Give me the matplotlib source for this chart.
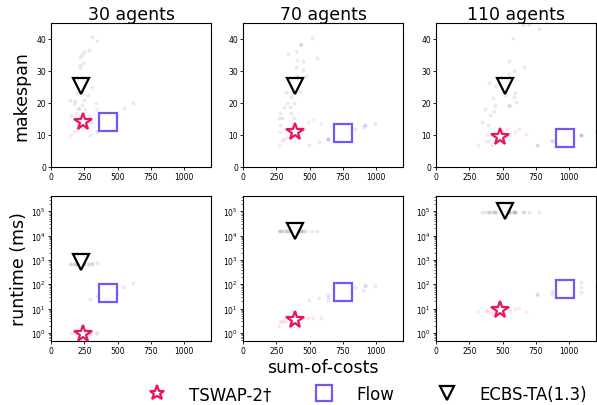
import matplotlib
matplotlib.use("Agg")
import matplotlib.pyplot as plt
import numpy as np

titles = ["30 agents", "70 agents", "110 agents"]
methods = ["TSWAP-2†", "Flow", "ECBS-TA(1.3)"]

# ---- 30 agents ----
ecbs30_soc = [309, 347, 283, 245, 233, 220, 220, 215, 309, 275, 144, 182, 175, 202, 207, 149, 190, 233, 245, 195, 240]
ecbs30_mk = [40.5, 39.5, 36.5, 36, 35, 34.5, 32, 31, 25, 22.5, 21, 20.5, 19.7, 18.5, 18, 16.3, 16.8, 19.5, 21, 23, 32.5]
ecbs30_rt = [700, 720, 690, 710, 700, 680, 720, 700, 730, 700, 680, 700, 690, 710, 700, 690, 700, 720, 700, 690, 710]
tswap30_soc = [152, 334, 347, 258, 283, 207, 195, 276, 170, 230, 300, 240, 215]
tswap30_mk = [10, 20, 18, 18, 16, 13, 11.6, 13, 11, 15, 14, 12, 16]
tswap30_rt = [1.0, 1.0, 1.0, 1.0, 1.0, 1.0, 1.0, 1.0, 1.0, 1.0, 1.0, 1.0, 1.0]
flow30_soc = [296, 347, 448, 549, 612, 498, 380]
flow30_mk = [10, 11, 15, 18.4, 20, 15.8, 12]
flow30_rt = [26, 33, 55, 75, 112, 44, 36]

# ---- 70 agents ----
ecbs70_soc = [434, 515, 553, 339, 398, 403, 398, 449, 449, 474, 408, 319, 357, 364, 428, 332, 383, 306, 281, 268, 293, 275, 352, 383, 357, 430]
ecbs70_mk = [38.4, 40.3, 34.2, 35.3, 36.3, 33.5, 31.1, 33.2, 30.4, 28.3, 28.3, 23.4, 22, 23.5, 23.4, 19.9, 19.9, 18.8, 16.8, 15.2, 15.2, 13.1, 18.8, 15.2, 16.8, 38]
ecbs70_rt = [16000] * 26
tswap70_soc = [268, 306, 357, 434, 485, 523, 587, 408, 281, 459, 330, 290, 380]
tswap70_mk = [7, 8.9, 10, 12.6, 14, 14.9, 13.9, 11, 11, 11.8, 9.5, 8.5, 12]
tswap70_rt = [2.0, 3.0, 3.2, 4.5, 4.0, 4.2, 4.2, 3.5, 3.0, 4.2, 3.0, 2.8, 3.8]
flow70_soc = [497, 569, 638, 638, 638, 842, 913, 913, 987, 900]
flow70_mk = [7, 7.9, 8.9, 8.9, 8.9, 12, 13, 13, 13.9, 12.5]
flow70_rt = [22, 28, 36, 30, 22, 76, 97, 86, 88, 60]

# ---- 110 agents ----
ecbs110_soc = [650, 700, 775, 575, 550, 657, 582, 550, 507, 395, 452, 595, 520, 427, 582, 440, 545, 370, 402, 432, 345, 387, 600, 545]
ecbs110_mk = [44.3, 44.3, 43.2, 40.3, 33.2, 31.1, 30, 29, 27.7, 26.2, 25.4, 23, 22.5, 21.5, 22, 19.3, 19.3, 18.2, 16.3, 17.6, 14, 13.2, 20.3, 19]
ecbs110_rt = [93000] * 24
tswap110_soc = [312, 377, 420, 382, 532, 620, 677, 557, 457, 500, 400, 440, 590]
tswap110_mk = [7, 8, 7, 10, 12, 12, 10.2, 10.2, 7.9, 11, 8, 10, 11]
tswap110_rt = [7, 8, 6.5, 9, 10, 11, 7, 9, 8, 9.5, 7.5, 8, 10]
flow110_soc = [757, 757, 870, 870, 1090, 1090, 1090, 1200]
flow110_mk = [7, 7, 8, 8, 10, 10, 10, 11]
flow110_rt = [41, 35, 52, 41, 124, 75, 49, 75]

# mean markers (soc, makespan, runtime)
tswap_mean_soc = [238, 388, 482]
tswap_mean_mk = [14.2, 10.8, 9.5]
tswap_mean_rt = [0.95, 3.5, 8.9]
flow_mean_soc = [428, 752, 965]
flow_mean_mk = [14, 10.7, 9]
flow_mean_rt = [44, 49, 65]
ecbs_mean_soc = [228, 388, 515]
ecbs_mean_mk = [25.3, 25.4, 25.4]
ecbs_mean_rt = [830, 16000, 100000]

data = [
    dict(tswap=(tswap30_soc, tswap30_mk, tswap30_rt), flow=(flow30_soc, flow30_mk, flow30_rt), ecbs=(ecbs30_soc, ecbs30_mk, ecbs30_rt)),
    dict(tswap=(tswap70_soc, tswap70_mk, tswap70_rt), flow=(flow70_soc, flow70_mk, flow70_rt), ecbs=(ecbs70_soc, ecbs70_mk, ecbs70_rt)),
    dict(tswap=(tswap110_soc, tswap110_mk, tswap110_rt), flow=(flow110_soc, flow110_mk, flow110_rt), ecbs=(ecbs110_soc, ecbs110_mk, ecbs110_rt)),
]
means = dict(
    tswap=(tswap_mean_soc, tswap_mean_mk, tswap_mean_rt),
    flow=(flow_mean_soc, flow_mean_mk, flow_mean_rt),
    ecbs=(ecbs_mean_soc, ecbs_mean_mk, ecbs_mean_rt),
)

col_pt = dict(tswap="#f0407a", flow="#5a3cf0", ecbs="#555555")
col_mk = dict(tswap="#e8175d", flow="#7a55f5", ecbs="black")
mshape = dict(tswap="*", flow="s", ecbs="v")
msize = dict(tswap=13, flow=13, ecbs=12)

fig = plt.figure(figsize=(5.97, 4.06), dpi=100)
W, H = 597, 406
lefts = [51, 243, 436]
pw = 160
rows = [(24, 168), (197, 342)]

axes = []
for r, (top, bot) in enumerate(rows):
    rowax = []
    for c, lx in enumerate(lefts):
        ax = fig.add_axes([lx / W, 1 - bot / H, pw / W, (bot - top) / H])
        rowax.append(ax)
    axes.append(rowax)

handles = {}
for c in range(3):
    for r in range(2):
        ax = axes[r][c]
        for key in ["ecbs", "tswap", "flow"]:
            soc, mk, rt = data[c][key]
            yv = mk if r == 0 else rt
            ax.scatter(soc, yv, s=8, color=col_pt[key], alpha=0.12, linewidths=0, zorder=2)
        for key in ["tswap", "flow", "ecbs"]:
            ms, mm, mr = means[key]
            yv = mm[c] if r == 0 else mr[c]
            h, = ax.plot([ms[c]], [yv], linestyle="none", marker=mshape[key],
                         markersize=msize[key], markerfacecolor="white",
                         markeredgecolor=col_mk[key], markeredgewidth=1.6, zorder=5)
            handles[key] = h
        ax.set_xlim(0, 1200)
        ax.set_xticks([0, 250, 500, 750, 1000])
        if r == 0:
            ax.set_ylim(0, 45)
            ax.set_yticks([0, 10, 20, 30, 40])
            ax.set_title(titles[c], fontsize=12.5, pad=3)
        else:
            ax.set_yscale("log")
            ax.set_ylim(0.47, 4.2e5)
            ax.set_yticks([1, 10, 100, 1e3, 1e4, 1e5])
        ax.tick_params(labelsize=5.5, length=2, width=0.6, pad=1.5)
        ax.tick_params(which="minor", length=1.2, width=0.4)
        for sp in ax.spines.values():
            sp.set_linewidth(0.8)

axes[0][0].set_ylabel("makespan", fontsize=12.5, labelpad=4)
axes[1][0].set_ylabel("runtime (ms)", fontsize=12.5, labelpad=2)
axes[1][1].set_xlabel("sum-of-costs", fontsize=12.5, labelpad=2)

fig.legend([handles["tswap"], handles["flow"], handles["ecbs"]], methods,
           loc="center left", bbox_to_anchor=(0.21, 1 - 395 / H), ncol=3, frameon=False,
           fontsize=12, handletextpad=0.9, columnspacing=2.2, markerscale=0.85)

fig.savefig("out.png", dpi=100)
